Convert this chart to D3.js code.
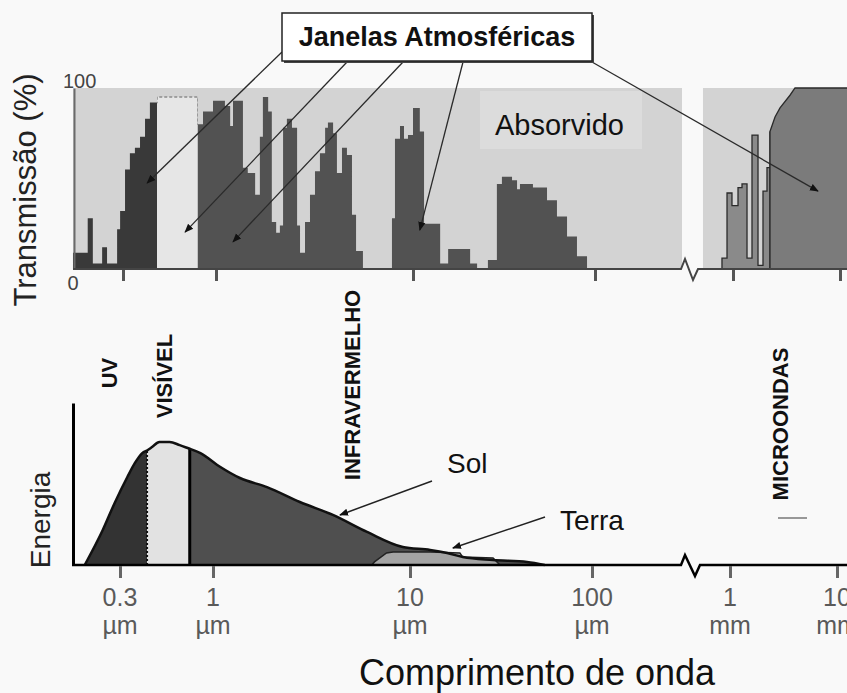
<!DOCTYPE html>
<html>
<head>
  <meta charset="utf-8">
  <title>Janelas Atmosféricas</title>
  <script src="https://cdn.jsdelivr.net/npm/d3@7"></script>
  <style>
    html, body {
      background: #f9f9f9;
      margin: 0;
    }

    svg {
      display: block;
      font-family: "Liberation Sans", Arial, Helvetica, sans-serif;
    }
  </style>
</head>
<body>
  <script>
  (function () {

  // wavelengths are in µm everywhere
  var tickValues = [0.3, 1, 10, 100, 1000, 10000],
      tickNumbers = ["0.3", "1", "10", "100", "1", "10"],
      tickUnits = ["µm", "µm", "µm", "µm", "mm", "mm"];

  // atmospheric transmission (%), step starts
  var transmission = [
    [0.157, 9], [0.19, 28], [0.203, 3], [0.229, 12], [0.244, 3], [0.278, 22], [0.289, 32],
    [0.308, 55], [0.328, 64], [0.35, 67], [0.374, 73], [0.399, 83], [0.425, 92],
    [0.466, 95],
    [0.79, 80], [0.845, 87], [0.962, 93], [1.11, 90], [1.18, 79], [1.22, 93], [1.37, 56],
    [1.45, 53], [1.58, 41], [1.67, 73], [1.73, 95], [1.84, 87], [1.92, 26], [2.02, 20],
    [2.11, 24], [2.19, 78], [2.29, 83], [2.43, 78], [2.58, 24], [2.67, 9], [2.83, 26],
    [3.0, 41], [3.18, 54], [3.37, 64], [3.58, 78], [3.7, 81], [3.93, 75], [4.11, 53],
    [4.36, 67], [4.62, 63], [4.9, 30], [5.14, 10], [5.57, 0],
    [7.82, 28], [8.1, 72], [8.59, 79], [9.0, 72], [9.43, 74], [10, 89], [10.9, 76],
    [11.5, 25], [14.1, 3], [15.6, 11], [20.6, 3], [22.5, 0], [25.8, 5], [28.9, 47],
    [30.8, 51], [35.0, 49], [37.3, 44], [38.7, 47], [45.6, 45], [54.5, 38], [61.8, 29],
    [70.2, 18], [79.6, 7], [90.4, 0]
  ];

  var microwaveBars = [
    [832, 6], [905, 42], [983, 35], [1114, 45], [1214, 47], [1352, 6], [1505, 74],
    [1713, 2], [1907, 43], [2078, 56], [2217, 76]
  ];

  var microwaveRamp = [
    [2217, 0], [2217, 76], [2470, 84], [2750, 89], [3409, 96], [3797, 100], [12000, 100]
  ];

  var absorbedBands = [[0.157, 427], [606, 12000]];
  var topBandEdges = [0.466, 0.79];

  // relative energy (0-100)
  var solEnergy = [
    [0.19, 0], [0.24, 21.6], [0.28, 38.3], [0.33, 54.3], [0.364, 63], [0.40, 69.1],
    [0.43, 71], [0.454, 72.8], [0.50, 75.9], [0.57, 75.9], [0.65, 74], [0.72, 72.2],
    [0.85, 69.1], [1.09, 60.5], [1.37, 53.7], [1.88, 48.1], [2.76, 38.9], [4.06, 30.9],
    [6.05, 20.4], [9.2, 11.1], [12.9, 9.3], [16, 7.4], [19.5, 4.9], [28.6, 3.1],
    [44, 1.9], [55, 0]
  ];

  var terraEnergy = [
    [6.4, 0], [6.6, 1.9], [7.6, 7.4], [8.2, 8.0], [12.9, 8.0], [18.8, 7.4], [19.5, 4.9],
    [28.6, 4.3], [31.2, 0]
  ];

  var bottomBandEdges = [0.426, 0.74];

  // where the "Janelas Atmosféricas" arrows point [µm, %]
  var windowTargets = [[0.41, 47.5], [0.67, 20.4], [1.22, 15], [10.9, 21.5], [6230, 43]];
  var solTarget = [4.41, 30.9],
      terraTarget = [17.2, 10.5];

  var width = 847,
      height = 693;

  var xBot = d3.scaleLog().domain(tickValues).range([120, 213, 410, 592, 730, 837]),
      xTop = xBot.copy().range(xBot.range().map(function (v) { return v + 3; })),
      yT = d3.scaleLinear().domain([0, 100]).range([269, 88]),
      yE = d3.scaleLinear().domain([0, 100]).range([565, 403]);

  var svg = d3.select("body").append("svg")
      .attr("width", width)
      .attr("height", height);

  var defs = svg.append("defs");

  defs.append("marker")
      .attr("id", "head")
      .attr("viewBox", "0 0 10 10")
      .attr("refX", 9)
      .attr("refY", 5)
      .attr("markerWidth", 9)
      .attr("markerHeight", 9)
      .attr("markerUnits", "userSpaceOnUse")
      .attr("orient", "auto")
    .append("path")
      .attr("d", "M0,1 L10,5 L0,9 Z")
      .attr("fill", "#111");

  function bandClip(id, scale, lo, hi) {
    var x0 = lo == null ? 0 : scale(lo),
        x1 = hi == null ? width : scale(hi);
    defs.append("clipPath").attr("id", id)
      .append("rect")
        .attr("x", x0).attr("y", 0)
        .attr("width", x1 - x0).attr("height", height);
  }

  bandClip("t-uv", xTop, null, topBandEdges[0]);
  bandClip("t-vis", xTop, topBandEdges[0], topBandEdges[1]);
  bandClip("t-ir", xTop, topBandEdges[1], null);
  bandClip("b-uv", xBot, null, bottomBandEdges[0]);
  bandClip("b-vis", xBot, bottomBandEdges[0], bottomBandEdges[1]);
  bandClip("b-ir", xBot, bottomBandEdges[1], null);

  // ---------- top panel: transmission ----------
  var top = svg.append("g");

  top.selectAll("rect.absorbed")
      .data(absorbedBands)
    .enter().append("rect")
      .attr("class", "absorbed")
      .attr("x", function (d) { return xTop(d[0]); })
      .attr("y", yT(100))
      .attr("width", function (d) { return xTop(d[1]) - xTop(d[0]); })
      .attr("height", yT(0) - yT(100))
      .attr("fill", "#d3d3d3");

  top.append("rect")
      .attr("x", 480).attr("y", 91)
      .attr("width", 162).attr("height", 58)
      .attr("fill", "#dcdcdc");

  var transArea = d3.area()
      .x(function (d) { return xTop(d[0]); })
      .y0(yT(0))
      .y1(function (d) { return yT(d[1]); })
      .curve(d3.curveStepAfter);

  var transLine = d3.line()
      .x(function (d) { return xTop(d[0]); })
      .y(function (d) { return yT(d[1]); })
      .curve(d3.curveStepAfter);

  [["t-uv", "#393939"], ["t-vis", "#e6e6e6"], ["t-ir", "#525252"]].forEach(function (b) {
    top.append("path")
        .attr("clip-path", "url(#" + b[0] + ")")
        .attr("d", transArea(transmission))
        .attr("fill", b[1]);
  });

  top.append("path")
      .attr("clip-path", "url(#t-vis)")
      .attr("d", transLine(transmission))
      .attr("fill", "none")
      .attr("stroke", "#8c8c8c")
      .attr("stroke-width", 1.5)
      .attr("stroke-dasharray", "3,2");

  top.append("path")
      .attr("d", transArea(microwaveBars))
      .attr("fill", "#8a8a8a")
      .attr("stroke", "#2a2a2a")
      .attr("stroke-width", 1.3);

  top.append("path")
      .attr("d", d3.area()
          .x(function (d) { return xTop(d[0]); })
          .y0(yT(0))
          .y1(function (d) { return yT(d[1]); })(microwaveRamp))
      .attr("fill", "#7b7b7b")
      .attr("stroke", "#2a2a2a")
      .attr("stroke-width", 1.3);

  // axes of the top panel
  top.append("g")
      .attr("transform", "translate(74,0)")
      .call(d3.axisLeft(yT).tickValues([]).tickSizeOuter(0))
      .select(".domain")
      .attr("stroke", "#6a6a6a")
      .attr("stroke-width", 2);

  top.append("path")
      .attr("d", "M73,269 H681 L685,259 L693,280 L698,269 H847")
      .attr("fill", "none")
      .attr("stroke", "#444")
      .attr("stroke-width", 2);

  var topAxis = top.append("g")
      .attr("transform", "translate(0,270)")
      .call(d3.axisBottom(xTop).tickValues(tickValues).tickSize(11).tickFormat(""));
  topAxis.select(".domain").remove();
  topAxis.selectAll(".tick line").attr("stroke", "#555").attr("stroke-width", 3);

  top.append("text")
      .attr("x", 63).attr("y", yT(100))
      .attr("font-size", 20)
      .attr("fill", "#444")
      .text("100");

  top.append("text")
      .attr("x", 73).attr("y", 290)
      .attr("text-anchor", "middle")
      .attr("font-size", 20)
      .attr("fill", "#444")
      .text("0");

  top.append("text")
      .attr("transform", "translate(36,190) rotate(-90)")
      .attr("text-anchor", "middle")
      .attr("font-size", 31)
      .attr("fill", "#222")
      .text("Transmissão (%)");

  top.append("text")
      .attr("x", 495).attr("y", 135)
      .attr("font-size", 29)
      .attr("fill", "#111")
      .text("Absorvido");

  // ---------- bottom panel: energy ----------
  var bot = svg.append("g");

  var solArea = d3.area()
      .x(function (d) { return xBot(d[0]); })
      .y0(yE(0))
      .y1(function (d) { return yE(d[1]); })
      .curve(d3.curveMonotoneX);

  var solLine = d3.line()
      .x(function (d) { return xBot(d[0]); })
      .y(function (d) { return yE(d[1]); })
      .curve(d3.curveMonotoneX);

  defs.append("clipPath").attr("id", "sol-shape")
    .append("path")
      .attr("d", solArea(solEnergy));

  [["b-uv", "#333333"], ["b-vis", "#e2e2e2"], ["b-ir", "#4f4f4f"]].forEach(function (b) {
    bot.append("path")
        .attr("clip-path", "url(#" + b[0] + ")")
        .attr("d", solArea(solEnergy))
        .attr("fill", b[1]);
  });

  var dividers = bot.append("g").attr("clip-path", "url(#sol-shape)");

  dividers.append("line")
      .attr("x1", xBot(bottomBandEdges[0])).attr("x2", xBot(bottomBandEdges[0]))
      .attr("y1", yE(0)).attr("y2", yE(100))
      .attr("stroke", "#111")
      .attr("stroke-width", 2)
      .attr("stroke-dasharray", "2,2");

  dividers.append("line")
      .attr("x1", xBot(bottomBandEdges[1])).attr("x2", xBot(bottomBandEdges[1]))
      .attr("y1", yE(0)).attr("y2", yE(100))
      .attr("stroke", "#000")
      .attr("stroke-width", 3);

  bot.append("path")
      .attr("d", d3.area()
          .x(function (d) { return xBot(d[0]); })
          .y0(yE(0))
          .y1(function (d) { return yE(d[1]); })(terraEnergy))
      .attr("fill", "#a4a4a4")
      .attr("stroke", "#222")
      .attr("stroke-width", 1.5);

  bot.append("path")
      .attr("d", solLine(solEnergy))
      .attr("fill", "none")
      .attr("stroke", "#111")
      .attr("stroke-width", 2.5);

  bot.append("g")
      .attr("transform", "translate(73,0)")
      .call(d3.axisLeft(yE).tickValues([]).tickSizeOuter(0))
      .select(".domain")
      .attr("stroke", "#000")
      .attr("stroke-width", 3);

  bot.append("path")
      .attr("d", "M72,565 H681 L685,555 L695,576 L700,565 H847")
      .attr("fill", "none")
      .attr("stroke", "#000")
      .attr("stroke-width", 2.5);

  var botAxis = bot.append("g")
      .attr("transform", "translate(0,566)")
      .call(d3.axisBottom(xBot).tickValues(tickValues).tickSize(12).tickFormat(""));
  botAxis.select(".domain").remove();
  botAxis.selectAll(".tick line").attr("stroke", "#666").attr("stroke-width", 3);

  // two-line tick labels: number over unit
  var tickLabels = bot.selectAll("text.tick-label")
      .data(tickValues)
    .enter().append("text")
      .attr("class", "tick-label")
      .attr("text-anchor", "middle")
      .attr("font-size", 25)
      .attr("fill", "#5a5a5a");

  tickLabels.append("tspan")
      .attr("x", function (d) { return xBot(d); })
      .attr("y", 606)
      .text(function (d, i) { return tickNumbers[i]; });

  tickLabels.append("tspan")
      .attr("x", function (d) { return xBot(d); })
      .attr("y", 634)
      .text(function (d, i) { return tickUnits[i]; });

  bot.append("text")
      .attr("x", 537).attr("y", 685)
      .attr("text-anchor", "middle")
      .attr("font-size", 36)
      .attr("fill", "#111")
      .text("Comprimento de onda");

  bot.append("text")
      .attr("transform", "translate(50,520) rotate(-90)")
      .attr("text-anchor", "middle")
      .attr("font-size", 28)
      .attr("fill", "#222")
      .text("Energia");

  bot.append("text")
      .attr("x", 447).attr("y", 473)
      .attr("font-size", 28)
      .attr("fill", "#111")
      .text("Sol");

  bot.append("text")
      .attr("x", 560).attr("y", 530)
      .attr("font-size", 28)
      .attr("fill", "#111")
      .text("Terra");

  bot.append("line")
      .attr("x1", 432).attr("y1", 481)
      .attr("x2", xBot(solTarget[0])).attr("y2", yE(solTarget[1]))
      .attr("stroke", "#222").attr("stroke-width", 1.5)
      .attr("marker-end", "url(#head)");

  bot.append("line")
      .attr("x1", 545).attr("y1", 517)
      .attr("x2", xBot(terraTarget[0])).attr("y2", yE(terraTarget[1]))
      .attr("stroke", "#222").attr("stroke-width", 1.5)
      .attr("marker-end", "url(#head)");

  // spectral region labels
  var regions = [
    { text: "UV", x: 117, y: 373 },
    { text: "VISÍVEL", x: 172, y: 376 },
    { text: "INFRAVERMELHO", x: 360, y: 385 },
    { text: "MICROONDAS", x: 788, y: 424 }
  ];

  svg.selectAll("text.region")
      .data(regions)
    .enter().append("text")
      .attr("class", "region")
      .attr("transform", function (d) { return "translate(" + d.x + "," + d.y + ") rotate(-90)"; })
      .attr("text-anchor", "middle")
      .attr("font-size", 22)
      .attr("font-weight", "bold")
      .attr("fill", "#111")
      .text(function (d) { return d.text; });

  svg.append("line")
      .attr("x1", 778).attr("x2", 807)
      .attr("y1", 518).attr("y2", 518)
      .attr("stroke", "#777")
      .attr("stroke-width", 1.5);

  // ---------- "Janelas Atmosféricas" call-out ----------
  var sources = [[282, 52], [347, 62], [403, 62], [463, 62], [592, 62]];

  svg.selectAll("line.window")
      .data(windowTargets)
    .enter().append("line")
      .attr("class", "window")
      .attr("x1", function (d, i) { return sources[i][0]; })
      .attr("y1", function (d, i) { return sources[i][1]; })
      .attr("x2", function (d) { return xTop(d[0]); })
      .attr("y2", function (d) { return yT(d[1]); })
      .attr("stroke", "#2a2a2a")
      .attr("stroke-width", 1.3)
      .attr("marker-end", "url(#head)");

  svg.append("rect")
      .attr("x", 284).attr("y", 15)
      .attr("width", 310).attr("height", 48)
      .attr("fill", "#444");

  svg.append("rect")
      .attr("x", 282).attr("y", 13)
      .attr("width", 310).attr("height", 48)
      .attr("fill", "#fff")
      .attr("stroke", "#222")
      .attr("stroke-width", 1.5);

  svg.append("text")
      .attr("x", 437).attr("y", 46)
      .attr("text-anchor", "middle")
      .attr("font-size", 27)
      .attr("font-weight", "bold")
      .attr("fill", "#111")
      .text("Janelas Atmosféricas");

  })();
  </script>
</body>
</html>
